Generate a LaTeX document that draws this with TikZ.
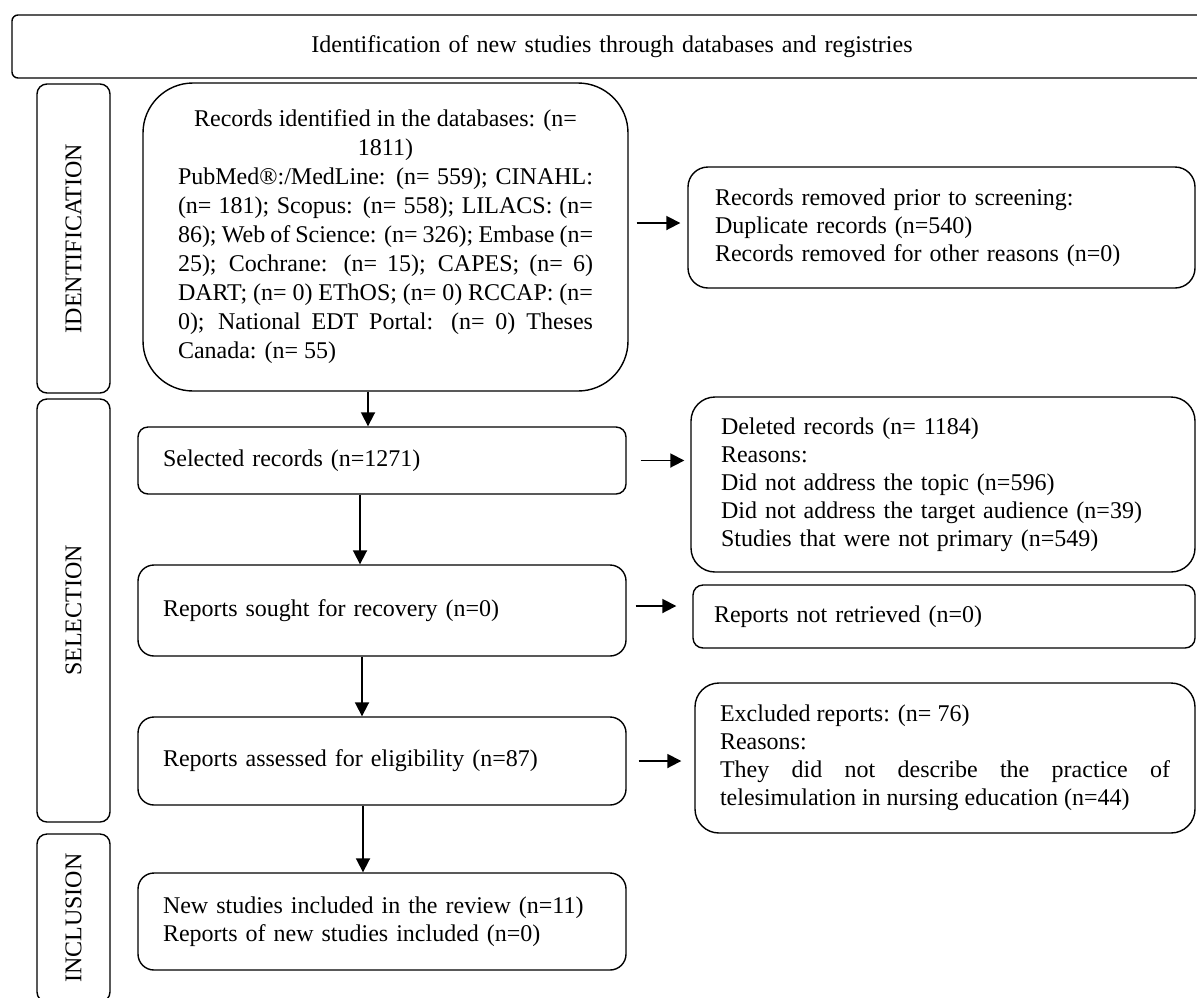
\documentclass[tikz,border=0pt]{standalone}
\usepackage{fontspec}
\setmainfont{Liberation Serif}
\usepackage{tikz}
\usetikzlibrary{arrows.meta, positioning, calc}
\tikzset{
  box/.style={rectangle, draw=black, line width=0.7pt, align=left,
    font=\fontsize{12}{14}\selectfont, inner ysep=0pt},
  sidebox/.style={rectangle, draw=black, line width=0.7pt, rotate=90,
    minimum height=36.5pt, inner sep=0pt, rounded corners=5pt,
    font=\fontsize{12}{14}\selectfont},
  arrow/.style={-{Triangle[length=7pt, width=7pt]}, line width=0.9pt}
}

\begin{document}
\begin{tikzpicture}[x=0.5pt, y=-0.5pt]
  \useasboundingbox (0,0) rectangle (1197,997);

  \node[box, align=center, text width=576pt, inner xsep=12pt, minimum height=31.5pt, rounded corners=3pt] (head) at (612,46.5) {Identification of new studies through databases and registries};

  % Phases
  \node[sidebox, minimum width=154.5pt] (identphase) at (73.5,238.5) {IDENTIFICATION};
  \node[sidebox, minimum width=211.5pt] (selphase) at (73.5,610.5) {SELECTION};
  \node[sidebox, minimum width=84pt] (inclphase) at (73.5,918) {INCLUSION};

  % Main column
  \node[box, align=justify, text width=207.5pt, inner xsep=17.5pt, minimum height=154pt, rounded corners=25pt, font=\fontsize{12}{14.5}\selectfont] (records) at (385.5,237) {{\centering Records identified in the databases: (n=\\ 1811)\par}
    PubMed®:/MedLine: (n= 559); CINAHL:\linebreak (n= 181); Scopus: (n= 558); LILACS: (n=\linebreak 86); Web of Science: (n= 326); Embase (n=\linebreak 25); Cochrane: (n= 15); CAPES; (n= 6)\linebreak DART; (n= 0) EThOS; (n= 0) RCCAP: (n=\linebreak 0); National EDT Portal: (n= 0) Theses\linebreak Canada: (n= 55)};
  \node[box, text width=219pt, inner xsep=12.5pt, minimum height=33.5pt, rounded corners=5pt] (selected) at (382,460.5) {Selected records (n=1271)};
  \node[box, text width=219pt, inner xsep=12.5pt, minimum height=45.5pt, rounded corners=8pt] (sought) at (382,610.5) {Reports sought for recovery (n=0)};
  \node[box, text width=219pt, inner xsep=12.5pt, minimum height=44pt, rounded corners=8pt] (assessed) at (382,761) {Reports assessed for eligibility (n=87)};
  \node[box, text width=219pt, inner xsep=12.5pt, minimum height=48.5pt, rounded corners=8pt] (included) at (382,921.5) {New studies included in the review (n=11)\\Reports of new studies included (n=0)};

  % Right column
  \node[box, text width=226.5pt, inner xsep=13.5pt, minimum height=60.5pt, rounded corners=10pt] (removed) at (941.5,227.5) {Records removed prior to screening:\\Duplicate records (n=540)\\Records removed for other reasons (n=0)};
  \node[box, text width=222pt, inner xsep=15pt, minimum height=87.5pt, rounded corners=12pt] (deleted) at (943,484.5) {Deleted records (n= 1184)\\Reasons:\\Did not address the topic (n=596)\\Did not address the target audience (n=39)\\Studies that were not primary (n=549)};
  \node[box, text width=230pt, inner xsep=10.5pt, minimum height=31.5pt, rounded corners=5pt] (notretrieved) at (944,616.5) {Reports not retrieved (n=0)};
  \node[box, align=justify, text width=225pt, inner xsep=12.5pt, minimum height=75pt, rounded corners=12pt] (excluded) at (945,758) {Excluded reports: (n= 76)\par Reasons:\par They did not describe the practice of\linebreak telesimulation in nursing education (n=44)};

  % Downward flow
  \coordinate (s1) at ($(selected.north)+(-14,0)$);
  \coordinate (s2) at ($(sought.north)+(-22,0)$);
  \coordinate (s3) at ($(assessed.north)+(-20,0)$);
  \coordinate (s4) at ($(included.north)+(-19,0)$);
  \draw[arrow] (records.south -| s1) -- (s1);
  \draw[arrow] (selected.south -| s2) -- (s2);
  \draw[arrow] (sought.south -| s3) -- (s3);
  \draw[arrow] (assessed.south -| s4) -- (s4);

  % Side exits
  \coordinate (h1) at ($(removed.west)+(0,-4.5)$);
  \coordinate (h3) at ($(notretrieved.west)+(0,-10.5)$);
  \draw[arrow, shorten <=4pt, shorten >=3.5pt] (records.east |- h1) -- (h1);
  \draw[arrow, shorten <=7pt, shorten >=3pt] (selected.east) -- (selected.east -| deleted.west);
  \draw[arrow, shorten <=4.5pt, shorten >=8pt] (sought.east |- h3) -- (h3);
  \draw[arrow, shorten <=6pt, shorten >=6.5pt] (assessed.east) -- (assessed.east -| excluded.west);
\end{tikzpicture}
\end{document}
